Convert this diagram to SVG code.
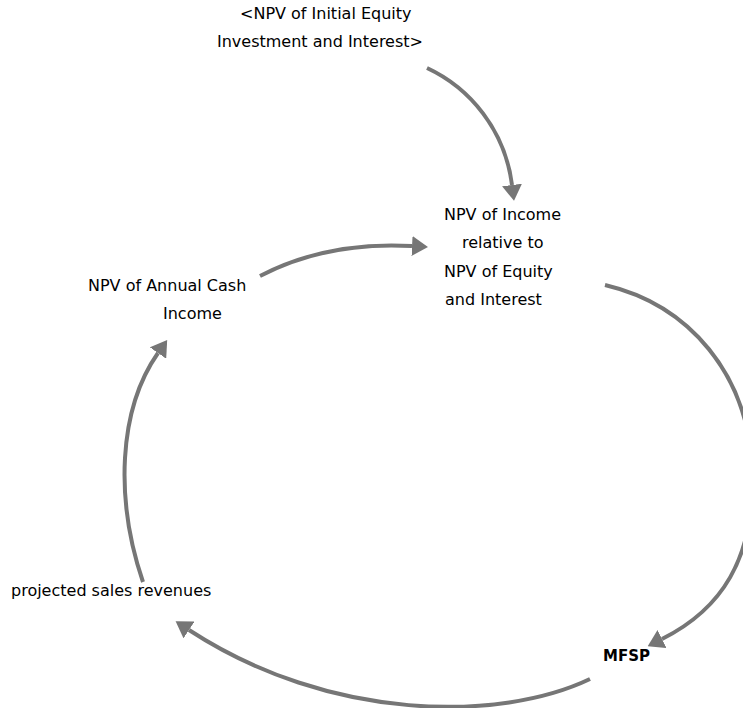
<svg xmlns="http://www.w3.org/2000/svg" width="743" height="708" viewBox="0 0 743 708">
  <style>
    text { font-family: "DejaVu Sans", Verdana, sans-serif; font-size: 16px; fill: #000; }
    .bold { font-weight: bold; font-size: 15px; }
    .link { fill: none; stroke: #767676; stroke-width: 4; marker-end: url(#arrow); }
  </style>
  <defs>
    <marker id="arrow" viewBox="0 0 16 20" markerWidth="16" markerHeight="20" refX="0" refY="10" orient="auto" markerUnits="userSpaceOnUse">
      <path d="M0,0 L16,10 L0,20 z" fill="#767676"/>
    </marker>
  </defs>
  <rect width="743" height="708" fill="#fff"/>
  <g id="connectors">
    <path class="link" d="M427,68 C470,88 505,130 512,185"/>
    <path class="link" d="M260,276 C310,250 360,243 412,246"/>
    <path class="link" d="M605,285 C690,305 748,375 752,468 C756,560 720,610 662,639"/>
    <path class="link" d="M590,679 C500,722 330,722 189,630"/>
    <path class="link" d="M143,582 C115,500 118,410 158,353"/>
  </g>
  <g id="npv-initial-equity">
    <text x="240" y="19">&lt;NPV of Initial Equity</text>
    <text x="217" y="47">Investment and Interest&gt;</text>
  </g>
  <g id="npv-income-relative">
    <text x="444" y="220">NPV of Income</text>
    <text x="462" y="248">relative to</text>
    <text x="444" y="276.5">NPV of Equity</text>
    <text x="445" y="305">and Interest</text>
  </g>
  <g id="npv-annual-cash">
    <text x="88" y="291">NPV of Annual Cash</text>
    <text x="163" y="319">Income</text>
  </g>
  <g id="projected-sales">
    <text x="11" y="596">projected sales revenues</text>
  </g>
  <g id="mfsp">
    <text class="bold" x="603" y="661">MFSP</text>
  </g>
</svg>
